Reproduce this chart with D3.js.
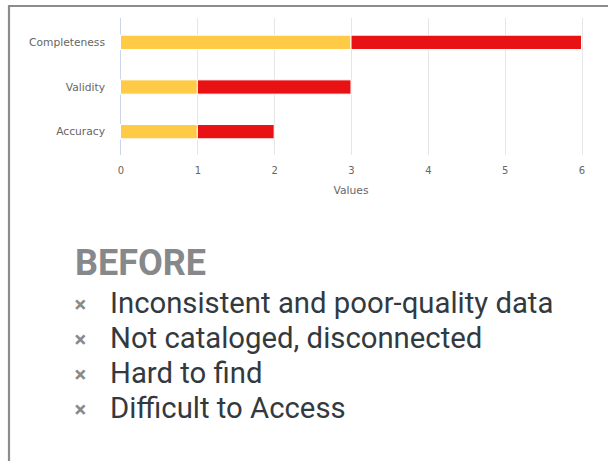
<!DOCTYPE html>
<html>
<head>
<meta charset="utf-8">
<script src="https://cdn.jsdelivr.net/npm/d3@7"></script>
<style>
  html, body { margin: 0; padding: 0; background: #fff; }
  svg { display: block; }
</style>
</head>
<body>
<svg id="chart" width="608" height="461"></svg>
<script>
const categories = ["Completeness", "Validity", "Accuracy"];
const seriesYellow = [3, 1, 1];
const seriesRed = [3, 2, 1];
const xTicks = [0, 1, 2, 3, 4, 5, 6];
const axisTitle = "Values";
const heading = "BEFORE";
const bullets = ["Inconsistent and poor-quality data", "Not cataloged, disconnected", "Hard to find", "Difficult to Access"];

const svg = d3.select("#chart");

// frame
svg.append("path")
  .attr("d", "M9,470 L9,6 L620,6")
  .attr("fill", "none").attr("stroke", "#8c8c8c").attr("stroke-width", 2.2);

const x = d3.scaleLinear().domain([0, 6]).range([120.5, 581.5]);
const y = d3.scaleBand().domain(categories).range([20, 154]).paddingInner(0.68).paddingOuter(0.34);

const plotTop = 18, plotBottom = 155;

// gridlines
svg.append("g").selectAll("line").data(xTicks.slice(1)).join("line")
  .attr("x1", d => Math.round(x(d)) + 0.5).attr("x2", d => Math.round(x(d)) + 0.5)
  .attr("y1", plotTop).attr("y2", plotBottom)
  .attr("stroke", "#e6e6e6").attr("stroke-width", 1);

// category axis line
svg.append("line").attr("x1", x(0)).attr("x2", x(0)).attr("y1", plotTop).attr("y2", plotBottom)
  .attr("stroke", "#ccd6eb").attr("stroke-width", 1);

// stacked bars
const stackData = categories.map((c, i) => ({cat: c, a: seriesYellow[i], b: seriesRed[i]}));
const g = svg.append("g");
g.selectAll("rect.y").data(stackData).join("rect")
  .attr("x", d => x(0)).attr("width", d => x(d.a) - x(0))
  .attr("y", d => y(d.cat)).attr("height", y.bandwidth())
  .attr("fill", "#ffca45").attr("stroke", "#fff").attr("stroke-width", 1);
g.selectAll("rect.r").data(stackData).join("rect")
  .attr("x", d => x(d.a)).attr("width", d => x(d.a + d.b) - x(d.a))
  .attr("y", d => y(d.cat)).attr("height", y.bandwidth())
  .attr("fill", "#e81214").attr("stroke", "#fff").attr("stroke-width", 1);

// category labels
svg.append("g").selectAll("text").data(categories).join("text")
  .attr("x", 105).attr("y", d => y(d) + y.bandwidth() / 2)
  .attr("dy", "0.35em").attr("text-anchor", "end")
  .attr("font-family", "DejaVu Sans, Verdana, sans-serif").attr("font-size", 10.7)
  .attr("fill", "#666").text(d => d);

// x axis ticks labels
const xAxis = d3.axisBottom(x).tickValues(xTicks).tickFormat(d3.format("d")).tickSize(0).tickPadding(0);
const ax = svg.append("g").attr("transform", `translate(0,${plotBottom})`).call(xAxis);
ax.select(".domain").remove();
ax.selectAll("text").attr("dy", null).attr("y", 19)
  .attr("font-family", "DejaVu Sans, Verdana, sans-serif").attr("font-size", 10)
  .attr("fill", "#666");

svg.append("text").attr("x", (x(0) + x(6)) / 2).attr("y", 194)
  .attr("text-anchor", "middle")
  .attr("font-family", "DejaVu Sans, Verdana, sans-serif").attr("font-size", 10.7)
  .attr("fill", "#666").text(axisTitle);

// text block
svg.append("text").attr("x", 75).attr("y", 275)
  .attr("font-family", "Roboto, sans-serif").attr("font-weight", 700).attr("font-size", 36)
  .attr("fill", "#86888a").text(heading);

const bl = svg.append("g");
bullets.forEach((b, i) => {
  const by = 313 + i * 35;
  bl.append("text").attr("x", 74.5).attr("y", by - 1)
    .attr("font-family", "Roboto, sans-serif").attr("font-weight", 700).attr("font-size", 22)
    .attr("fill", "#8a8a8a").text("×");
  bl.append("text").attr("x", 110).attr("y", by)
    .attr("font-family", "Roboto, sans-serif").attr("font-size", 29.3)
    .attr("fill", "#333a3f").text(b);
});
</script>
</body>
</html>
